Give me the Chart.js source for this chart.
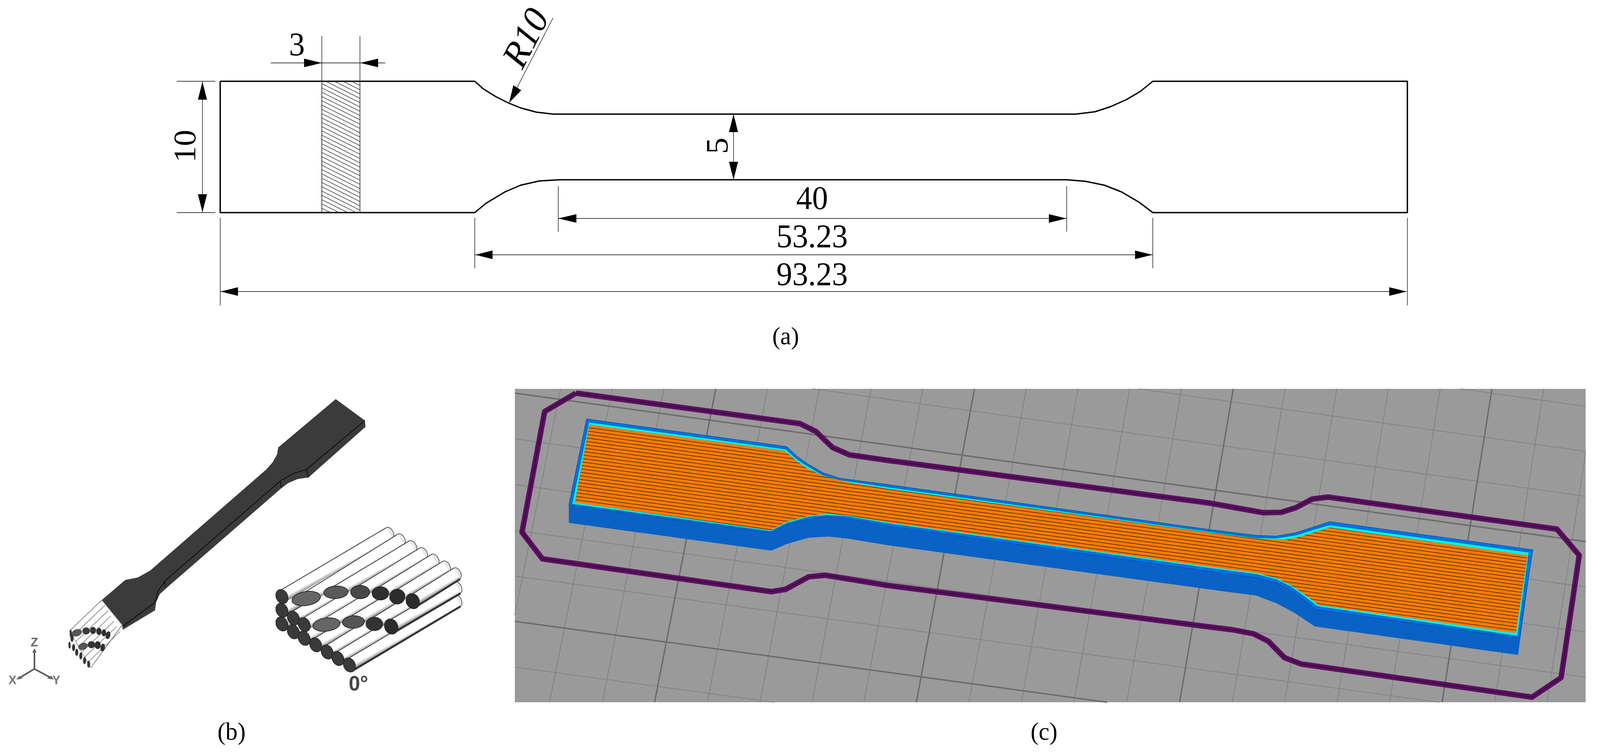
<!DOCTYPE html>
<html><head><meta charset="utf-8">
<script src="https://cdn.jsdelivr.net/npm/chart.js@4"></script>
<style>html,body{margin:0;padding:0;background:#fff;overflow:hidden}canvas{display:block}</style>
</head><body><canvas id="c"></canvas>
<script>
/* ---------- (a) drawing ---------- */
const specimenOutline=[[583,208],[1257,208],[1279,227],[1312,247],[1345,263],[1378,276],[1420,287],[1465,292],[2848,292],[2899,286],[2940,273],[2982,255],[3019,234],[3052,208],[3726,208],[3726,544],[3052,544],[3015,517],[2969,491],[2924,474],[2874,464],[2824,460],[1482,460],[1428,463],[1378,474],[1337,491],[1287,520],[1257,544],[583,544],[583,208]];
const hatchBox=[[852,208],[953,208],[953,544],[852,544],[852,208]];
const thinLines=[
 [[852,93],[852,208]],[[953,93],[953,208]],[[717,161],[1020,161]],
 [[468,208],[570,208]],[[468,544],[570,544]],[[536,209],[536,543]],
 [[1464,46],[1348,263]],
 [[1478,477],[1478,592]],[[2824,477],[2824,592]],[[1478,559],[2824,559]],
 [[1257,558],[1257,686]],[[3052,558],[3052,686]],[[1258,652],[3051,652]],
 [[583,558],[583,781]],[[3726,558],[3726,781]],[[584,746],[3724,746]],
 [[1942,292],[1942,460]]
];
const arrowHeads=[
 [[852,161],[805,150],[805,172]],[[954,161],[1001,150],[1001,172]],
 [[536,209],[524,255],[548,255]],[[536,543],[524,497],[548,497]],
 [[1348,263],[1359,218],[1380,231]],
 [[1478,559],[1526,548],[1526,570]],[[2823,559],[2777,548],[2777,570]],
 [[1258,652],[1304,641],[1304,663]],[[3051,652],[3005,641],[3005,663]],
 [[584,746],[630,735],[630,757]],[[3724,746],[3678,735],[3678,757]],
 [[1942,292],[1930,338],[1954,338]],[[1942,460],[1930,414],[1954,414]]
];
/* ---------- (c) slicer view ---------- */
const bedRect=[[1363,995],[4198,995],[4198,1797],[1363,1797],[1363,995]];
const gridMinor=[
 [[1484,995],[1363,1573]],[[1621,995],[1455,1797]],[[1758,995],[1595,1797]],
 [[2032,995],[1873,1797]],[[2169,995],[2012,1797]],[[2306,995],[2150,1797]],[[2443,995],[2287,1797]],
 [[2717,995],[2565,1797]],[[2854,995],[2704,1797]],[[2991,995],[2843,1797]],[[3128,995],[2983,1797]],
 [[3402,995],[3263,1797]],[[3539,995],[3401,1797]],[[3676,995],[3540,1797]],[[3813,995],[3679,1797]],
 [[4087,995],[3957,1797]],[[4198,1158],[4096,1797]],
 [[3867,995],[4198,1040]],[[3014,995],[4198,1155]],[[2152,995],[4198,1270]],
 [[1363,1123],[4198,1502]],[[1363,1240],[4198,1617]],[[1363,1357],[4198,1733]],
 [[1363,1474],[3810,1797]],[[1363,1707],[2050,1797]]
];
const gridMajor=[
 [[1895,995],[1733,1797]],[[2580,995],[2426,1797]],[[3265,995],[3123,1797]],[[3950,995],[3818,1797]],
 [[1363,1006],[4198,1386]],[[1363,1590],[2931,1797]]
];
const skirtPath=[[1525,1006],[2118,1084],[2160,1104],[2204,1145],[2249,1164],[2350,1178],[3200,1287],[3345,1312],[3392,1311],[3431,1299],[3474,1277],[3516,1272],[4122,1354],[4181,1421],[4133,1734],[4056,1784],[3444,1699],[3401,1683],[3358,1641],[3319,1622],[3266,1612],[3200,1604],[2350,1498],[2185,1472],[2141,1476],[2080,1508],[2042,1514],[1436,1430],[1382,1362],[1442,1053],[1525,1006]];
const wallPoly=[[1506,1293],[2042,1364],[2083,1343],[2147,1327],[2192,1322],[2243,1327],[2350,1346],[3200,1462],[3325,1478],[3378,1491],[3418,1511],[3451,1535],[3484,1560],[4022,1633],[4057,1407],[4052,1445],[4019,1676],[3481,1603],[3425,1567],[3378,1543],[3325,1524],[3200,1508],[2350,1395],[2243,1378],[2192,1373],[2141,1376],[2083,1392],[2042,1409],[1506,1338],[1506,1293]];
const faceBlue=[[1553,1072],[2083,1143],[2109,1167],[2141,1189],[2179,1210],[2224,1224],[2350,1240],[3200,1355],[3325,1370],[3378,1372],[3431,1363],[3477,1349],[3520,1335],[4058,1407],[4022,1633],[3484,1560],[3451,1535],[3418,1511],[3378,1491],[3325,1478],[3200,1462],[2350,1346],[2243,1327],[2192,1322],[2147,1327],[2083,1343],[2042,1364],[1506,1293],[1553,1072]];
const faceCyan=[[1559,1080],[2080,1149],[2109,1174],[2141,1194],[2179,1216],[2224,1228],[2350,1246],[3200,1360],[3325,1376],[3378,1377],[3431,1369],[3477,1355],[3520,1343],[4048,1413],[4018,1628],[3487,1552],[3454,1527],[3418,1502],[3378,1483],[3325,1470],[3200,1454],[2350,1340],[2243,1322],[2192,1319],[2147,1322],[2083,1339],[2040,1360],[1514,1290],[1559,1080]];
const faceInfill=[[1560,1087],[2077,1154],[2090,1164],[2109,1180],[2134,1197],[2179,1218],[2249,1235],[2350,1251],[3200,1363],[3325,1378],[3405,1381],[3431,1376],[3477,1363],[3520,1350],[4044,1421],[4013,1620],[3491,1548],[3458,1524],[3418,1498],[3378,1479],[3325,1466],[3200,1450],[2350,1337],[2243,1319],[2192,1315],[2147,1319],[2083,1335],[2040,1357],[1522,1286],[1560,1087]];
/* ---------- (b) bar: values read in crop pixels of panel b ---------- */
const barSilhouette=[[1072,68],[888,272],[885,300],[870,335],[850,365],[480,790],[440,820],[400,830],[325,915],[390,1020],[392,1040],[495,958],[498,925],[510,890],[535,860],[897,445],[920,422],[950,405],[985,398],[1167,185],[1165,158],[1072,68]];
const barEdges=[[[1165,158],[978,365],[985,398]],[[978,365],[940,380],[898,410],[530,830],[505,875],[495,925],[392,1025]],[[895,415],[898,440]],[[525,835],[528,860]]];
const tinyBlock=[[325,915],[390,1020],[290,1200],[222,1045],[325,915]];
const tinyLines=[[[222,1045],[325,915]],[[232,1067],[335,937]],[[242,1090],[345,960]],[[251,1112],[354,982]],[[261,1134],[364,1004]],[[270,1156],[373,1026]],[[280,1178],[383,1048]],[[290,1200],[390,1020]]];
const tinyEllipses=[[245,1053,14,9,-.3,'#555'],[275,1045,10,9,0,'#3a3a3a'],[297,1043,8,9,0,'#333'],[316,1047,7,9,0,'#2f2f2f'],[332,1053,6,9,0,'#2f2f2f'],[345,1063,6,10,.2,'#2f2f2f'],[265,1110,13,9,-.3,'#555'],[292,1103,10,9,0,'#333'],[312,1105,8,10,0,'#2f2f2f'],[328,1115,6,10,.2,'#2f2f2f'],[226,1056,3,10,0,'#333'],[230,1076,4,9,0,'#333'],[222,1105,3,9,0,'#333'],[235,1115,4,9,0,'#333'],[245,1135,4,9,0,'#333'],[258,1150,4,9,0,'#333'],[270,1170,4,9,0,'#333'],[283,1185,4,9,0,'#333']];
const triadLines=[[[110,1205],[110,1130]],[[110,1205],[62,1243]],[[110,1205],[163,1243]]];
const triadTips=[[[110,1118],[103,1136],[117,1136]],[[52,1250],[62,1234],[72,1246]],[[172,1250],[150,1245],[163,1233]]];
/* ---------- (b) fibres: values read in crop pixels of the fibre block ---------- */
const fibreBottomFront=[[130,770],[215,830],[295,880],[380,930],[465,985],[545,1035],[630,1085]];
const fibreBottomBack=[[927,272],[1012,322],[1097,374],[1177,427],[1262,477],[1347,530],[1432,590]];
const fibreMiddleFront=[[130,665],[215,725],[295,775],[460,775],[660,755],[815,770],[940,790]];
const fibreMiddleBack=[[927,172],[1012,222],[1097,274],[1177,327],[1262,377],[1347,430],[1432,490]];
const fibreTopFront=[[130,560],[310,575],[530,527],[710,525],[860,535],[985,560],[1100,595]];
const fibreTopBack=[[927,72],[1012,122],[1097,174],[1177,227],[1262,277],[1347,330],[1427,382]];
const endsBottom=[[15,19,'#3a3a3a',-.52],[15,19,'#3a3a3a',-.52],[15,19,'#3a3a3a',-.52],[15,19,'#3a3a3a',-.52],[15,19,'#3a3a3a',-.52],[15,19,'#3a3a3a',-.52],[15,19,'#3a3a3a',-.52]];
const endsMiddle=[[15,19,'#3a3a3a',-.52],[15,19,'#3a3a3a',-.52],[15,19,'#3a3a3a',-.52],[36,17,'#666666',-.12],[29,16,'#555555',-.05],[22,17,'#333333',0],[17,20,'#2c2c2c',-.5]];
const endsTop=[[15,19,'#3a3a3a',-.52],[38,18,'#666666',-.15],[32,16,'#5a5a5a',-.05],[25,17,'#484848',0],[22,17,'#303030',0],[20,19,'#2c2c2c',-.2],[17,20,'#2c2c2c',-.5]];
/* ---------- texts ---------- */
const labelTexts=['3','10','R10','5','40','53.23','93.23','(a)','(b)','(c)','0°','Z','X','Y'];
const labelX=[786,495,1397,1905,2150,2150,2150,2080,613,2764,949,91,33,149];
const labelY=[120,374,100,373,513,611,708,864,1876,1876,1752,1645,1742,1742];
const labelRot=[0,-90,-62,-90,0,0,0,0,0,0,0,0,0,0];
const labelFont=['84px "Liberation Serif"','84px "Liberation Serif"','italic 96px "Liberation Serif"','84px "Liberation Serif"','84px "Liberation Serif"','84px "Liberation Serif"','84px "Liberation Serif"','64px "Liberation Serif"','64px "Liberation Serif"','64px "Liberation Serif"','bold 54px "Liberation Sans"','bold 32px "Liberation Sans"','bold 32px "Liberation Sans"','bold 32px "Liberation Sans"'];
const labelColor=['#000','#000','#000','#000','#000','#000','#000','#000','#000','#000','#444','#666','#777','#777'];

const DRAWING_W=4236;
const canvas=document.getElementById('c');
const W=window.innerWidth,H=window.innerHeight;
canvas.width=W;canvas.height=H;canvas.style.width=W+'px';canvas.style.height=H+'px';
const sx=W/DRAWING_W;
const g=canvas.getContext('2d');
const b3=([x,y])=>[x/1.206,980+y/1.647];
const f8=([x,y])=>[700+x/2.8,1340+y/3];

function stripePattern(TW,period,rise,bg,fg,lw){
  const t=document.createElement('canvas');t.width=TW;t.height=period;
  const c=t.getContext('2d');c.fillStyle=bg;c.fillRect(0,0,TW,period);
  c.strokeStyle=fg;c.lineWidth=lw;
  const n=Math.ceil(rise/period)+2;
  for(let k=-n;k<=n;k++){c.beginPath();c.moveTo(-2,k*period-2*rise/TW);c.lineTo(TW+2,k*period+rise+2*rise/TW);c.stroke();}
  return g.createPattern(t,'repeat');
}
const hatchFill=stripePattern(110,11,55,'#ffffff','#222222',1.3);
const infillFill=stripePattern(200,9,27,'#ff7d00','#6e3c0c',2.2);
const wallFill=stripePattern(60,5,10,'#0a66cc','#0958b2',1.3);

const sets=[];
const asPts=a=>a.map(([x,y])=>({x,y}));
function poly(points,fill,stroke,width){sets.push({data:asPts(points),showLine:true,fill:'shape',backgroundColor:fill,borderColor:stroke||'rgba(0,0,0,0)',borderWidth:width||0,pointRadius:0,borderJoinStyle:'round'});}
function path(points,stroke,width){sets.push({data:asPts(points),showLine:true,fill:false,borderColor:stroke,borderWidth:width,pointRadius:0,borderJoinStyle:'round',borderCapStyle:'butt'});}
function ellipse(cx,cy,rx,ry,rot,fill,stroke){const p=[];const c=Math.cos(rot),s=Math.sin(rot);
  for(let i=0;i<=36;i++){const a=i/36*2*Math.PI,ex=rx*Math.cos(a),ey=ry*Math.sin(a);p.push([cx+ex*c-ey*s,cy+ex*s+ey*c]);}
  poly(p,fill,stroke,stroke?1.8:0);}
function fibreLayer(fronts,backs,ends){
  const w=16;
  fronts.forEach((fz,i)=>{
    const f=f8(fz),b=f8(backs[i]);const dx=b[0]-f[0],dy=b[1]-f[1],l=Math.hypot(dx,dy);
    let nx=-dy/l,ny=dx/l;if(ny<0){nx=-nx;ny=-ny;}
    const gr=g.createLinearGradient((f[0]-nx*w)*sx,f[1]-ny*w,(f[0]+nx*w)*sx,f[1]+ny*w);
    gr.addColorStop(0,'#ffffff');gr.addColorStop(.62,'#ffffff');gr.addColorStop(.9,'#9a9a9a');gr.addColorStop(1,'#555555');
    ellipse(b[0],b[1],10,w,-.52,'#e8e8e8','#555');
    poly([[f[0]+nx*w,f[1]+ny*w],[b[0]+nx*w,b[1]+ny*w],[b[0]-nx*w,b[1]-ny*w],[f[0]-nx*w,f[1]-ny*w],[f[0]+nx*w,f[1]+ny*w]],gr);
    path([[f[0]-nx*w,f[1]-ny*w],[b[0]-nx*w,b[1]-ny*w]],'#3a3a3a',2);
    if(i===fronts.length-1)path([[f[0]+nx*w,f[1]+ny*w+1],[b[0]+nx*w,b[1]+ny*w+1]],'#333333',5);
  });
  fronts.forEach((fz,i)=>{const f=f8(fz),e=ends[i];ellipse(f[0],f[1],e[0],e[1],e[3],e[2],'#262626');});
}
/* panel a */
poly(hatchBox,hatchFill);
path(hatchBox,'#111',1.5);
thinLines.forEach(l=>path(l,'#000',1.3));
arrowHeads.forEach(h=>poly([...h,h[0]],'#000'));
path(specimenOutline,'#000',3.5);
/* panel c */
poly(bedRect,'#9a9a9a');
gridMinor.forEach(l=>path(l,'#828282',2));
gridMajor.forEach(l=>path(l,'#6a6a6a',3.5));
path(skirtPath,'#5c1060',14);
path(skirtPath,'#3d0b45',3);
poly(wallPoly,wallFill);
poly(faceBlue,'#0072ee','#0a4f9a',1.5);
poly(faceCyan,'#00eeee','#0a6a7a',1.5);
poly(faceInfill,infillFill);
/* panel b */
poly(barSilhouette.map(b3),'#3b3b3b');
barEdges.forEach(l=>path(l.map(b3),'#0c0c0c',2));
poly(tinyBlock.map(b3),'#fff','#888',1.5);
tinyLines.forEach(l=>path(l.map(b3),'#777',1.5));
tinyEllipses.forEach(([x,y,rx,ry,r,c])=>{const [a,b]=b3([x,y]);ellipse(a,b,rx,ry,r,c);});
fibreLayer(fibreBottomFront,fibreBottomBack,endsBottom);
fibreLayer(fibreMiddleFront,fibreMiddleBack,endsMiddle);
fibreLayer(fibreTopFront,fibreTopBack,endsTop);
triadLines.forEach(l=>path(l.map(b3),'#555',4));
triadTips.forEach(t=>poly([...t,t[0]].map(b3),'#666'));
sets.forEach((s,i)=>{s.order=-i;});

const labelsPlugin={id:'labels',afterDatasetsDraw(ch){
  const c=ch.ctx,xs=ch.scales.x,ys=ch.scales.y;
  labelTexts.forEach((t,i)=>{c.save();c.translate(xs.getPixelForValue(labelX[i]),ys.getPixelForValue(labelY[i]));
    c.scale(sx,1);c.rotate(labelRot[i]*Math.PI/180);c.font=labelFont[i];c.fillStyle=labelColor[i];c.textAlign='center';c.textBaseline='middle';c.fillText(t,0,0);c.restore();});
}};
new Chart(canvas,{type:'scatter',data:{datasets:sets},plugins:[labelsPlugin],options:{
  responsive:false,animation:false,devicePixelRatio:1,layout:{padding:0},
  plugins:{legend:{display:false},tooltip:{enabled:false},title:{display:false}},events:[],
  scales:{x:{type:'linear',min:0,max:DRAWING_W,display:false},y:{type:'linear',min:0,max:1932,reverse:true,display:false}}
}});
</script></body></html>
